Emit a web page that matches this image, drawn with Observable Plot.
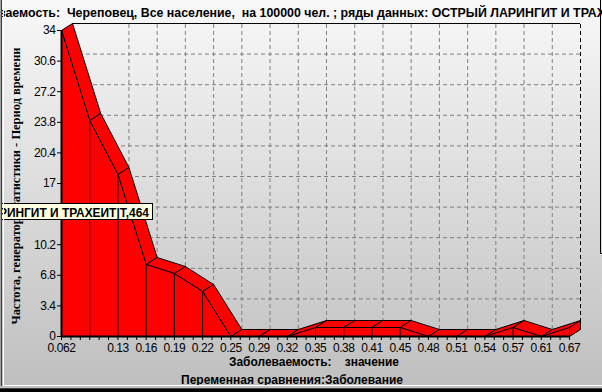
<!DOCTYPE html>
<html><head><meta charset="utf-8">
<script src="https://cdn.jsdelivr.net/npm/d3@7"></script>
<script src="https://cdn.jsdelivr.net/npm/@observablehq/plot@0.6"></script>
<style>
html,body{margin:0;padding:0;background:#c0c0c0;overflow:hidden}
#chart svg{display:block}
</style></head><body><div id="chart"></div>
<script>
const categories = ["0.062","0.096","0.13","0.16","0.19","0.22","0.25","0.29","0.32","0.35","0.38","0.41","0.45","0.48","0.51","0.54","0.57","0.61","0.67"];
const hiddenLabels = ["0.096"];
const frequency = [34,24,18,8,7,5,0,0,0,1,1,1,1,0,0,0,1,0,1];
const yTicks = [0,3.4,6.8,10.2,13.6,17,20.4,23.8,27.2,30.6,34];
const titleText = "ваемость:  Череповец, Все население,  на 100000 чел. ; ряды данных: ОСТРЫЙ ЛАРИНГИТ И ТРАХ";
const yLabel = "Частота, генератор статистики - Период времени";
const xLabel = "Заболеваемость:    значение";
const compareLabel = "Переменная сравнения:Заболевание";
const tooltipText = "РИНГИТ И ТРАХЕИТ|Т,464";

const W = 602, H = 392, mL = 61, mR = 33, mT = 30, mB = 56;
const n = categories.length;
const last = n - 1;
const yMax = 34;
const step = (W - mL - mR) / last;
const DX = 11 / step;                    // depth offset (x units)
const DY = 7 / ((H - mT - mB) / yMax);   // depth offset (y units)

const idx = d3.range(n);
const front = idx.map(i => ({x: i, y: frequency[i]}));
const faces = [];
for (let i = 0; i < last; i++) {
  const a = frequency[i], b = frequency[i + 1];
  [[i, a], [i + 1, b], [i + 1 + DX, b + DY], [i + DX, a + DY], [i, a]]
    .forEach(([x, y]) => faces.push({x, y, z: i}));
}
const lv = frequency[last];
[[last, lv], [last + DX, lv + DY], [last + DX, DY], [last, 0], [last, lv]]
  .forEach(([x, y]) => faces.push({x, y, z: n}));

const labeled = idx.filter(i => !hiddenLabels.includes(categories[i]));
const gridX = labeled.filter(i => i > 0 && i < last);
const gridY = yTicks.filter(t => t > 0 && t < yMax);
const minor = d3.range(0, last * 3 + 1).map(k => k / 3);

const chart = Plot.plot({
  width: W, height: H,
  marginLeft: mL, marginRight: mR, marginTop: mT, marginBottom: mB,
  style: {background: "linear-gradient(#f8f8f8,#bebebe)", fontFamily: "'Liberation Sans', Arial, sans-serif", fontSize: "12px", color: "#000", overflow: "hidden"},
  x: {domain: [0, last], ticks: minor, tickSize: 4, tickPadding: 3, label: null,
      tickFormat: t => { const r = Math.round(t); return Math.abs(t - r) < 1e-6 && labeled.includes(r) ? categories[r] : ""; }},
  y: {domain: [0, yMax], ticks: yTicks, tickSize: 4, tickPadding: 2, label: null, tickFormat: d => String(d)},
  marks: [
    Plot.ruleY(gridY, {y: d => d + DY, x1: DX, x2: last + DX, stroke: "#808080", strokeDasharray: "4,3"}),
    Plot.ruleX(gridX, {x: d => d + DX, y1: DY, y2: yMax + DY, stroke: "#808080", strokeDasharray: "4,3"}),
    Plot.ruleY([yMax], {y: d => d + DY, x1: DX, x2: last + DX, stroke: "#000"}),
    Plot.ruleX([last], {x: d => d + DX, y1: DY, y2: yMax + DY, stroke: "#000", strokeDasharray: "4,3"}),
    Plot.line(faces, {x: "x", y: "y", z: "z", fill: "#ff0000", stroke: "#000", strokeWidth: 1}),
    Plot.areaY(front, {x: "x", y: "y", fill: "#ff0000"}),
    Plot.ruleX(front.filter(d => d.y > 0), {x: "x", y1: 0, y2: "y", stroke: "#000"}),
    Plot.line(front, {x: "x", y: "y", stroke: "#000", strokeWidth: 1}),
    Plot.ruleX([0], {y1: 0, y2: yMax, stroke: "#000", strokeWidth: 2}),
    Plot.ruleY([0], {x1: 0, x2: last, stroke: "#000", strokeWidth: 2})
  ]
});
document.getElementById("chart").appendChild(chart);

const svg = d3.select(chart);
// slightly condensed tick labels (narrow, tall look of the original)
svg.selectAll("text").style("letter-spacing", "-0.45px");

const sans = "'Liberation Sans', Arial, sans-serif";
function addText(t, x, y, size, len) {
  return svg.append("text").attr("x", x).attr("y", y)
    .attr("text-anchor", "start").attr("font-family", sans)
    .attr("font-weight", "bold").attr("font-size", size).attr("fill", "#000")
    .style("white-space", "pre")
    .attr("textLength", len).attr("lengthAdjust", "spacingAndGlyphs").text(t);
}
// title
addText(titleText, -2, 17, 13, 607);
// y label
svg.append("text").attr("transform", "translate(20,186) rotate(-90)")
  .attr("text-anchor", "middle").attr("font-family", "'Liberation Serif','Times New Roman',serif")
  .attr("font-weight", "bold").attr("font-size", 12.5).attr("fill", "#000")
  .attr("textLength", 277).attr("lengthAdjust", "spacingAndGlyphs").text(yLabel);
// tooltip
svg.append("rect").attr("x", -1).attr("y", 203.5).attr("width", 153.5).attr("height", 16)
  .attr("fill", "#ffffe1").attr("stroke", "#000");
addText(tooltipText, -1, 217, 12, 150);
// bottom labels
addText(xLabel, 229, 366, 12, 170);
addText(compareLabel, 181, 384, 12.5, 222);
// window frame
const fr = [
  [0, 0, 1, 392, "#a0a0a0"], [1, 0, 1, 392, "#404040"], [3, 0, 1, 386, "#ffffff"],
  [3, 385, 599, 1, "#ffffff"], [0, 386, 602, 2, "#c0c0c0"], [0, 388, 602, 1, "#404040"], [0, 389, 602, 3, "#000000"],
  [600, 0, 1, 254, "#000000"], [600, 253, 2, 1, "#000000"]
];
fr.forEach(([x, y, w, h, c]) => svg.append("rect").attr("x", x).attr("y", y).attr("width", w).attr("height", h).attr("fill", c));
</script></body></html>
